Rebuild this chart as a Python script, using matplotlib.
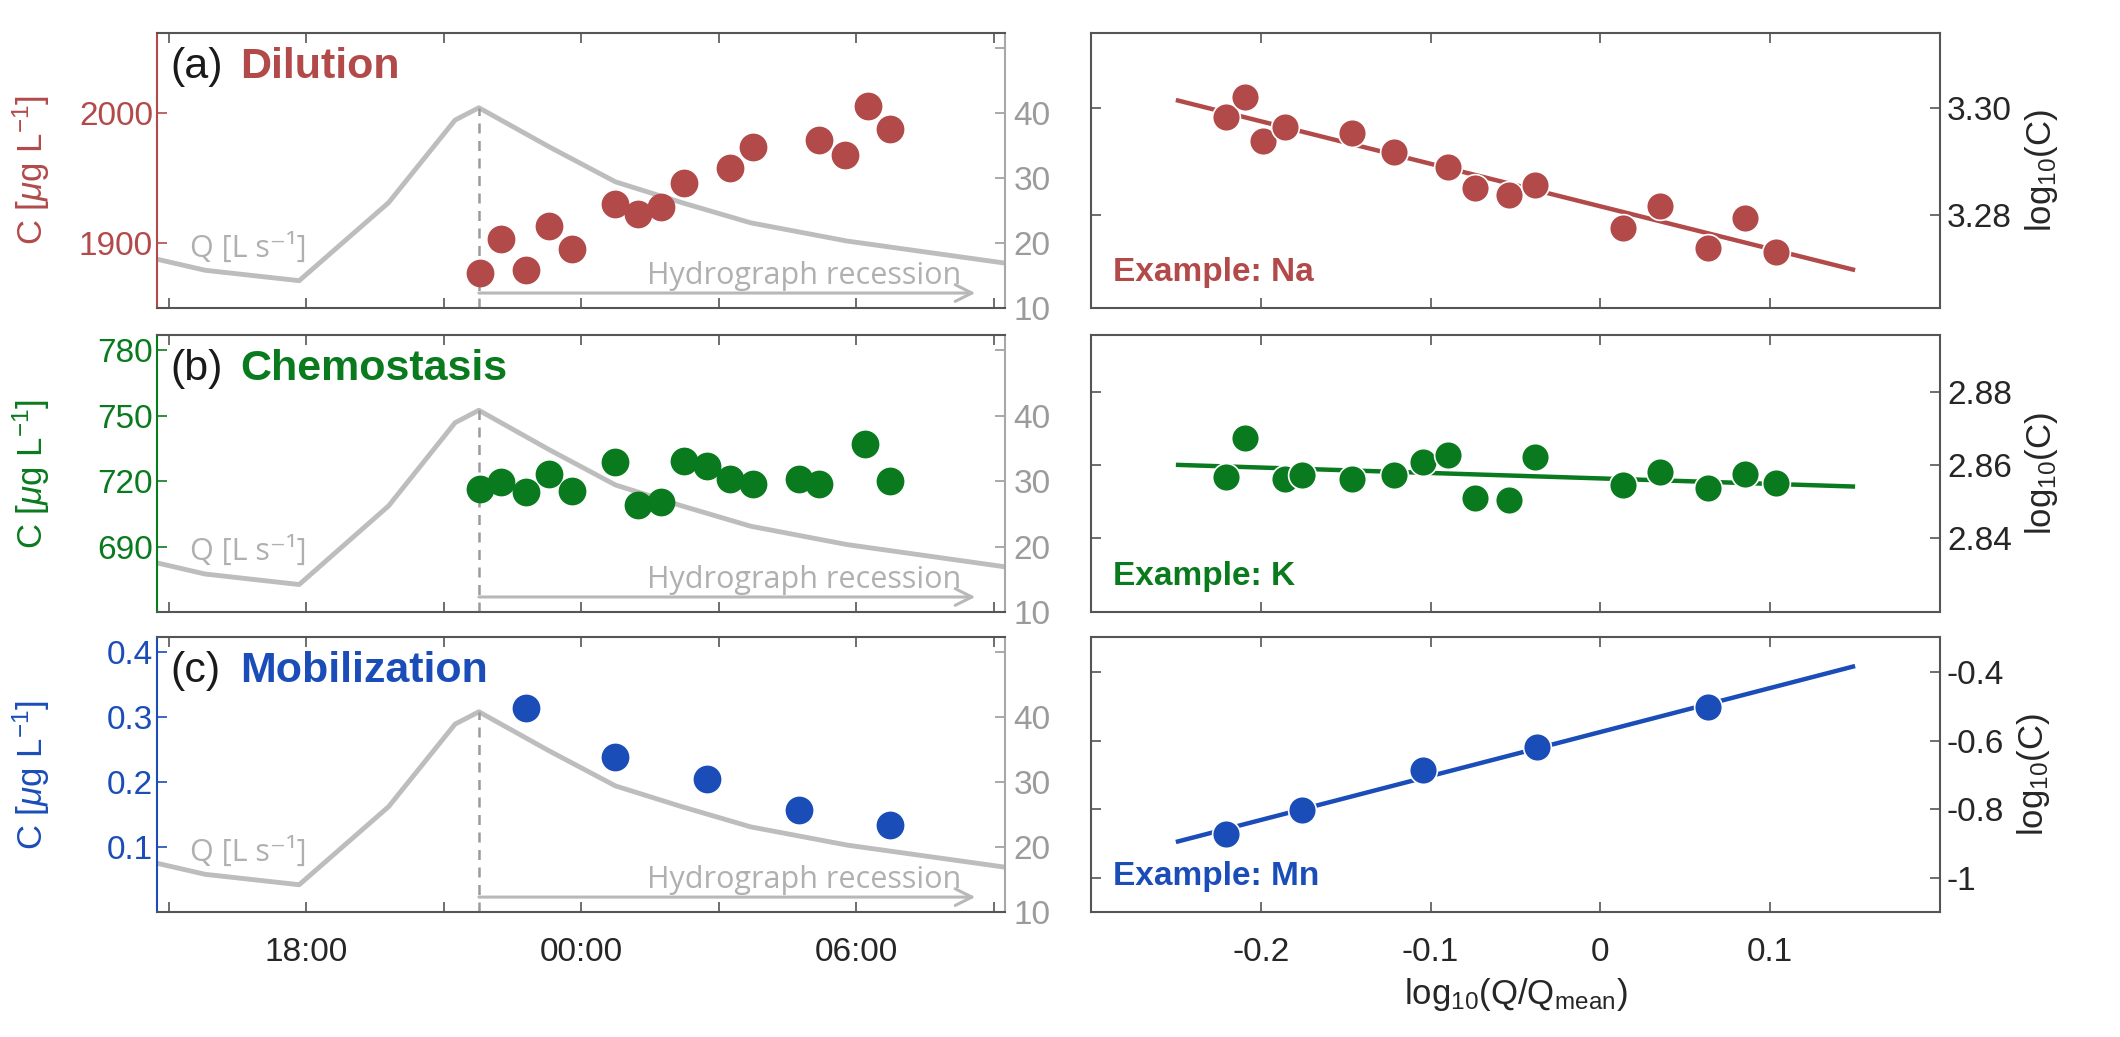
import numpy as np
import matplotlib.pyplot as plt

plt.rcParams['font.family'] = ['Liberation Sans', 'DejaVu Sans']
plt.rcParams['mathtext.fontset'] = 'custom'
plt.rcParams['mathtext.rm'] = 'Liberation Sans'
plt.rcParams['mathtext.it'] = 'Liberation Sans:italic'
plt.rcParams['mathtext.bf'] = 'Liberation Sans:bold'
plt.rcParams['axes.unicode_minus'] = False

# discharge hydrograph (hours from midnight of day 1, Q in L/s)
q_hours = [14.75, 15.8, 17.85, 19.8, 21.25, 21.77, 23.3, 24.75, 26.2, 27.7, 29.8, 33.25]
q_flow = [17.5, 15.8, 14.2, 26.2, 38.9, 40.8, 34.8, 29.4, 26.2, 23.1, 20.3, 16.9]

# concentration time series
na_hours = [21.8, 22.25, 22.8, 23.3, 23.8, 24.75, 25.25, 25.75, 26.25, 27.25, 27.75,
            29.2, 29.75, 30.25, 30.75]
na_conc = [1877, 1903, 1879, 1913, 1895, 1930, 1922, 1928, 1946, 1958, 1974,
           1979, 1968, 2005, 1988]
k_hours = [21.8, 22.25, 22.8, 23.3, 23.8, 24.75, 25.25, 25.75, 26.25, 26.75, 27.25,
           27.75, 28.75, 29.2, 30.2, 30.75]
k_conc = [716.4, 719.6, 715.0, 723.2, 715.5, 728.6, 709.2, 710.6, 729.0, 726.8, 720.9,
          718.7, 720.9, 718.7, 737.1, 720.0]
mn_hours = [22.8, 24.75, 26.75, 28.75, 30.75]
mn_conc = [0.314, 0.238, 0.205, 0.157, 0.134]

# C-Q relations (log10 Q/Qmean vs log10 C)
na_logq = [-0.2205, -0.2094, -0.1988, -0.1859, -0.1461, -0.1215, -0.0899, -0.0741,
           -0.0541, -0.0383, 0.0132, 0.0349, 0.0636, 0.0852, 0.1034]
na_logc = [3.2983, 3.3021, 3.2938, 3.2964, 3.2953, 3.2918, 3.2890, 3.2850,
           3.2837, 3.2856, 3.2776, 3.2817, 3.2738, 3.2794, 3.2731]
k_logq = [-0.2205, -0.2094, -0.1859, -0.1760, -0.1461, -0.1215, -0.1045, -0.0899,
          -0.0741, -0.0541, -0.0383, 0.0132, 0.0349, 0.0636, 0.0852, 0.1034]
k_logc = [2.8567, 2.8674, 2.8562, 2.8573, 2.8562, 2.8573, 2.8608, 2.8627,
          2.8510, 2.8504, 2.8622, 2.8545, 2.8581, 2.8537, 2.8575, 2.8551]
mn_logq = [-0.2205, -0.1760, -0.1045, -0.0371, 0.0636]
mn_logc = [-0.8715, -0.8012, -0.6870, -0.6196, -0.5025]

# fitted lines: (intercept, slope) over fit_range
fit_range = [-0.25, 0.15]
na_fit = (3.2816, -0.0795)
k_fit = (2.8563, -0.0149)
mn_fit = (-0.575, 1.283)

panels = ['(a)', '(b)', '(c)']
regimes = ['Dilution', 'Chemostasis', 'Mobilization']
elements = ['Na', 'K', 'Mn']
colors = ['#B24A4A', '#0A7A1F', '#1B4DB8']
ts_hours = [na_hours, k_hours, mn_hours]
ts_conc = [na_conc, k_conc, mn_conc]
cq_x = [na_logq, k_logq, mn_logq]
cq_y = [na_logc, k_logc, mn_logc]
fits = [na_fit, k_fit, mn_fit]

c_lims = [(1850, 2061.5), (660, 786.9), (0, 0.423)]
c_ticks = [[1900, 2000], [690, 720, 750, 780], [0.1, 0.2, 0.3, 0.4]]
c_ticklabels = [['1900', '2000'], ['690', '720', '750', '780'], ['0.1', '0.2', '0.3', '0.4']]
q_lim = (10, 52.3)
q_ticks = [10, 20, 30, 40, 50]
q_ticklabels = ['10', '20', '30', '40', '']
time_ticks = [15, 18, 21, 24, 27, 30, 33]
time_labels = ['', '18:00', '', '00:00', '', '06:00', '']

log_lims = [(3.2626, 3.314), (2.8197, 2.8956), (-1.10, -0.298)]
log_ticks = [[3.28, 3.30], [2.84, 2.86, 2.88], [-1, -0.8, -0.6, -0.4]]
log_ticklabels = [['3.28', '3.30'], ['2.84', '2.86', '2.88'], ['-1', '-0.8', '-0.6', '-0.4']]
logq_ticks = [-0.2, -0.1, 0, 0.1]
logq_labels = ['-0.2', '-0.1', '0', '0.1']

GRAY_Q = '#bdbdbd'
FRAME = '#555555'
TICK_FS = 24

fig = plt.figure(figsize=(21.2, 10.37), dpi=100)
bottoms = [0.7030, 0.4098, 0.1205]
heights = [0.2652, 0.2672, 0.2652]

peak_i = int(np.argmax(q_flow))
peak_h, peak_q = q_hours[peak_i], q_flow[peak_i]

for i in range(3):
    col = colors[i]
    # ---- left: time series with hydrograph ----
    ax = fig.add_axes([0.0741, bottoms[i], 0.4000, heights[i]])
    tw = ax.twinx()
    ax.set_zorder(tw.get_zorder() + 1)
    ax.patch.set_visible(False)

    tw.plot(q_hours, q_flow, color=GRAY_Q, lw=3.5, solid_joinstyle='round')
    tw.plot([peak_h, peak_h], [q_lim[0], peak_q], color='#9a9a9a', lw=1.8,
            dashes=(4, 3))
    tw.annotate('', xy=(32.6, 12.3), xytext=(peak_h, 12.3),
                arrowprops=dict(arrowstyle='->', color='#b8b8b8', lw=2.2,
                                mutation_scale=30, shrinkA=0, shrinkB=0))
    tw.text(32.3, 14.9, 'Hydrograph recession', ha='right', va='center',
            fontsize=22, color='#b0b0b0', family=['Open Sans', 'DejaVu Sans'])
    tw.set_ylim(*q_lim)
    tw.set_yticks(q_ticks)
    tw.set_yticklabels(q_ticklabels)
    tw.tick_params(axis='y', direction='in', length=7, width=1.2,
                   colors='#9b9b9b', labelsize=TICK_FS, pad=6)
    for s in ['left', 'top', 'bottom']:
        tw.spines[s].set_visible(False)
    tw.spines['right'].set_color('#a8a8a8')
    tw.spines['right'].set_linewidth(1.5)

    ax.plot(ts_hours[i], ts_conc[i], 'o', color=col, ms=20, mew=0)
    ax.set_xlim(14.75, 33.25)
    ax.set_ylim(*c_lims[i])
    ax.set_yticks(c_ticks[i])
    ax.set_yticklabels(c_ticklabels[i])
    ax.set_xticks(time_ticks)
    ax.set_xticklabels(time_labels if i == 2 else [''] * len(time_ticks))
    ax.tick_params(axis='x', direction='in', length=7, width=1.2, top=True,
                   bottom=True, colors=FRAME, labelcolor='#262626',
                   labelsize=TICK_FS, pad=18)
    ax.tick_params(axis='y', direction='in', length=7, width=1.2, colors=col,
                   labelsize=TICK_FS, pad=3)
    for s in ['top', 'bottom']:
        ax.spines[s].set_color(FRAME)
        ax.spines[s].set_linewidth(1.5)
    ax.spines['left'].set_color(col)
    ax.spines['left'].set_linewidth(1.5)
    ax.spines['right'].set_visible(False)
    ax.set_ylabel(r'C [$\mu$g L$^{-1}$]', color=col, fontsize=25)
    ax.yaxis.set_label_coords(-0.124, 0.5)

    ax.text(0.016, 0.876, panels[i], transform=ax.transAxes, fontsize=31,
            va='center', color='#1a1a1a')
    ax.text(0.098, 0.876, regimes[i], transform=ax.transAxes, fontsize=31,
            va='center', color=col, fontweight='bold')
    ax.text(0.039, 0.218, 'Q [L s⁻¹]', transform=ax.transAxes, fontsize=22,
            va='center', color='#b0b0b0', family=['Open Sans', 'DejaVu Sans'])

    # ---- right: C-Q relation ----
    bx = fig.add_axes([0.5146, bottoms[i], 0.4005, heights[i]])
    a, b = fits[i]
    fx = np.array(fit_range)
    bx.plot(fx, a + b * fx, color=col, lw=3.2, solid_capstyle='butt')
    bx.plot(cq_x[i], cq_y[i], 'o', color=col, ms=20, mec='white', mew=1.2)
    bx.set_xlim(-0.3, 0.2)
    bx.set_ylim(*log_lims[i])
    bx.set_yticks(log_ticks[i])
    bx.set_yticklabels(log_ticklabels[i])
    bx.set_xticks(logq_ticks)
    bx.set_xticklabels(logq_labels if i == 2 else [''] * len(logq_ticks))
    bx.tick_params(axis='both', direction='in', length=7, width=1.2,
                   top=True, bottom=True, left=True, right=True,
                   labelleft=False, labelright=True, colors=FRAME,
                   labelcolor='#262626', labelsize=TICK_FS)
    bx.tick_params(axis='x', pad=18)
    bx.tick_params(axis='y', pad=5)
    for s in bx.spines.values():
        s.set_color(FRAME)
        s.set_linewidth(1.5)
    bx.yaxis.set_label_position('right')
    bx.set_ylabel(r'log$_{10}$(C)', fontsize=25, color='#262626', labelpad=8)
    bx.text(0.026, 0.13, 'Example: ' + elements[i], transform=bx.transAxes,
            fontsize=24, va='center', color=col, fontweight='bold')
    if i == 2:
        bx.set_xlabel(r'log$_{10}$(Q/Q$_{\mathrm{mean}}$)', fontsize=25,
                      color='#262626', labelpad=6)

fig.savefig('out.png', dpi=100)
